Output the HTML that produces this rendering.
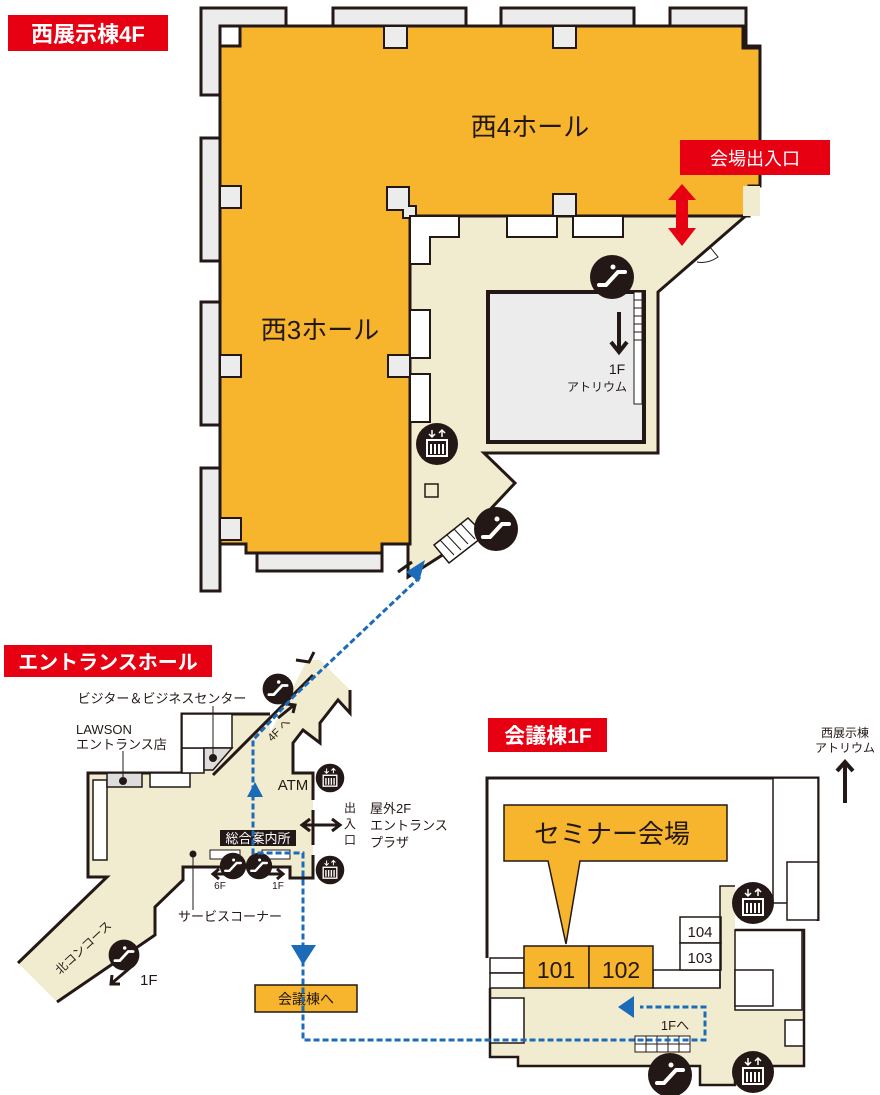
<!DOCTYPE html>
<html><head><meta charset="utf-8"><style>
html,body{margin:0;padding:0;background:#fff;}
svg{display:block;}
text{font-family:"Liberation Sans","Noto Sans CJK JP",sans-serif;}
</style></head><body>
<svg width="880" height="1095" viewBox="0 0 880 1095" xmlns="http://www.w3.org/2000/svg">
<defs>
<g id="esc"><circle r="22" fill="#231815"/><path d="M-13 8 L-6 8 L6 -5 L13 -5" stroke="#fff" stroke-width="4" fill="none" stroke-linecap="round"/><circle cx="1" cy="-10" r="2.5" fill="#fff"/></g>
<g id="elv"><circle r="21" fill="#231815"/><rect x="-10" y="-4" width="20" height="16" fill="none" stroke="#fff" stroke-width="2"/><path d="M-6 0v10M-2 0v10M2 0v10M6 0v10" stroke="#fff" stroke-width="2"/><path d="M-5 -14v7M-8 -10l3 3 3-3M5 -7v-7M2 -11l3-3 3 3" stroke="#fff" stroke-width="1.5" fill="none"/></g>
</defs>

<g fill="#ececec" stroke="#231815" stroke-width="3">
<path d="M201 8 H286 V26 H220 V46 H220 V95 H201 Z"/>
<rect x="333" y="8" width="133" height="18"/>
<rect x="501" y="8" width="133" height="18"/>
<path d="M670 8 H746 V55 H760 V46 H746 V26 H670 Z"/>
<rect x="201" y="138" width="19" height="123"/>
<rect x="201" y="302" width="19" height="123"/>
<rect x="201" y="468" width="19" height="123"/>
<rect x="257" y="553" width="125" height="18"/>
</g>
<path d="M410 216 H749 L749 213 L658 292 V453 H484 L515 483 L455 547 L408 577 L408 544 L410 544 Z" fill="#f1ecd0" stroke="#231815" stroke-width="3"/>
<path d="M240 26 H743 V48 H760 V186 H749 V216 H410 V220 H410 V544 H382 V553 H246 V544 H220 V46 H240 Z" fill="#f6b52c" stroke="#231815" stroke-width="3"/>
<g fill="#ececec" stroke="#231815" stroke-width="2">
<rect x="384" y="26" width="23" height="22"/><rect x="553" y="26" width="23" height="22"/>
<rect x="220" y="186" width="21" height="22"/><rect x="220" y="355" width="21" height="22"/><rect x="220" y="518" width="21" height="22"/>
<rect x="553" y="194" width="23" height="22"/><rect x="388" y="355" width="22" height="22"/>
<path d="M387 187 H409 V206 H416 V218 H403 V210 H387 Z"/>
<rect x="743" y="186" width="17" height="30" fill="#f1ecd0" stroke="none"/>
</g>
<g fill="#fff" stroke="#231815" stroke-width="2">
<path d="M410 216 H459 V237 H430 V264 H410 Z"/>
<rect x="507" y="216" width="50" height="21"/><rect x="573" y="216" width="50" height="21"/>
<rect x="410" y="310" width="20" height="48"/><rect x="410" y="374" width="20" height="48"/>
</g>
<rect x="488" y="292" width="156" height="150" fill="#ececec" stroke="#231815" stroke-width="4"/>
<rect x="634" y="292" width="8" height="112" fill="#fff" stroke="#231815" stroke-width="1"/>
<path d="M634 300h8M634 308h8M634 316h8M634 324h8M634 332h8M634 340h8" stroke="#231815" stroke-width="1"/>
<path d="M710 247 L718 257 Q708 264 697 262" fill="none" stroke="#231815" stroke-width="1"/>
<path d="M434 545 L468 518 L485 535 L449 563 Z" fill="#fff" stroke="#231815" stroke-width="1.5"/>
<path d="M440 540l14 15M447 535l14 15M454 529l14 15M461 524l14 15" stroke="#231815" stroke-width="1"/>
<rect x="425" y="484" width="13" height="13" fill="#f1ecd0" stroke="#231815" stroke-width="1.5"/>
<path d="M398 572 L412 562" stroke="#231815" stroke-width="3"/>

<text x="530" y="136" font-size="26" text-anchor="middle" fill="#231815">西4ホール</text>
<text x="320" y="339" font-size="26" text-anchor="middle" fill="#231815">西3ホール</text>
<text x="617" y="374" font-size="14" text-anchor="middle" fill="#231815">1F</text>
<text x="597" y="391" font-size="12" text-anchor="middle" fill="#231815">アトリウム</text>
<path d="M619 312 V350 M611 342 L619 352 L627 342" stroke="#231815" stroke-width="4" fill="none"/>
<use href="#esc" x="612" y="277"/>
<use href="#esc" x="496" y="529"/>
<use href="#elv" x="437" y="444"/>
<path d="M682 184 L696 200 H688 V228 H696 L682 246 L668 228 H676 V200 H668 Z" fill="#e60012"/>

<rect x="8" y="15" width="160" height="36" fill="#e60012"/>
<text x="88" y="42" font-size="22" font-weight="bold" fill="#fff" text-anchor="middle">西展示棟4F</text>
<rect x="680" y="140" width="150" height="35" fill="#e60012"/>
<text x="755" y="165" font-size="18" fill="#fff" text-anchor="middle">会場出入口</text>

<path d="M18 963 L107 877 L107 877 L88 877 V773 H182 V714 H270 V733 L307 660 L320 660 L350 690 V713 L338 700 L320 723 V743 L303 730 L293 743 V773 H313 V878 H290 V867 H183 V880 L155 907 V935 L57 1002 Z" fill="#f1ecd0"/>
<g fill="none" stroke="#231815" stroke-width="3">
<path d="M18 963 L107 877 V877 L105 877 H88 V773 H182 V714 H270"/>
<path d="M213 775 L313 675"/>
<path d="M350 690 V713 L338 700 L320 723 V743 L303 730 L293 743 V773 H313 V800 M313 810 V845 M313 855 V878 H290 V867 H183 V880 L155 907 V935 L57 1002"/>
<path d="M296 660 L309 662 L314 652"/>
</g>
<g fill="#fff" stroke="#231815" stroke-width="1.5">
<rect x="93" y="780" width="14" height="80"/>
<rect x="150" y="773" width="40" height="14"/>
<rect x="182" y="748" width="22" height="25"/>
<rect x="182" y="714" width="50" height="34"/>
</g>
<rect x="107" y="773" width="35" height="14" fill="#ddd" stroke="#231815" stroke-width="1.5"/>
<path d="M204 748 H232 L213 770 H204 Z" fill="#ddd" stroke="#231815" stroke-width="1.5"/>
<circle cx="123" cy="781" r="4" fill="#231815"/><circle cx="213" cy="758" r="4" fill="#231815"/><circle cx="193" cy="854" r="3.5" fill="#231815"/>
<path d="M123 751 V777 M213 706 V754 M193 857 V910" stroke="#231815" stroke-width="1"/>
<rect x="220" y="830" width="76" height="16" fill="#231815"/>
<text x="258" y="843" font-size="13" fill="#fff" text-anchor="middle">総合案内所</text>
<rect x="210" y="850" width="30" height="9" fill="#fff" stroke="#231815"/><rect x="262" y="850" width="28" height="9" fill="#fff" stroke="#231815"/>
<use href="#esc" x="233" y="866" transform="translate(233 866) scale(0.6) translate(-233 -866)"/>
<use href="#esc" x="259" y="866" transform="translate(259 866) scale(0.6) translate(-259 -866)"/>
<use href="#esc" x="278" y="689" transform="translate(278 689) scale(0.7) translate(-278 -689)"/>
<use href="#esc" x="124" y="955" transform="translate(124 955) scale(0.7) translate(-124 -955)"/>
<use href="#elv" x="330" y="778" transform="translate(330 778) scale(0.68) translate(-330 -778)"/>
<use href="#elv" x="330" y="870" transform="translate(330 870) scale(0.68) translate(-330 -870)"/>
<g stroke="#231815" stroke-width="3" fill="none">
<path d="M304 825 H338 M310 819 L302 825 L310 831 M332 819 L340 825 L332 831"/>
<path d="M214 874 H226 M219 869 L213 874 L219 879"/>
<path d="M266 874 H282 M277 869 L283 874 L277 879"/>
<path d="M278 718 L294 705 M287 704 L295 705 L293 713"/>
<path d="M131 967 L112 983 M112 975 L111 984 L120 984"/>
</g>
<text x="220" y="889" font-size="10" fill="#231815" text-anchor="middle">6F</text>
<text x="278" y="889" font-size="10" fill="#231815" text-anchor="middle">1F</text>
<text x="140" y="985" font-size="15" fill="#231815">1F</text>
<text x="293" y="790" font-size="15" fill="#231815" text-anchor="middle">ATM</text>
<text x="272" y="742" font-size="11" fill="#231815" transform="rotate(-45 272 742)">4F へ</text>
<text x="60" y="975" font-size="12" fill="#231815" transform="rotate(-43 60 975)">北コンコース</text>
<text x="162" y="703" font-size="13" fill="#231815" text-anchor="middle">ビジター＆ビジネスセンター</text>
<text x="76" y="734" font-size="13" fill="#231815">LAWSON</text>
<text x="76" y="749" font-size="13" fill="#231815">エントランス店</text>
<text x="178" y="921" font-size="13" fill="#231815">サービスコーナー</text>
<text x="350" y="812" font-size="12" fill="#231815" text-anchor="middle">出</text>
<text x="350" y="828" font-size="12" fill="#231815" text-anchor="middle">入</text>
<text x="350" y="844" font-size="12" fill="#231815" text-anchor="middle">口</text>
<text x="370" y="813" font-size="13" fill="#231815">屋外2F</text>
<text x="370" y="830" font-size="13" fill="#231815">エントランス</text>
<text x="370" y="847" font-size="13" fill="#231815">プラザ</text>
<rect x="4" y="645" width="208" height="32" fill="#e60012"/>
<text x="108" y="669" font-size="20" font-weight="bold" fill="#fff" text-anchor="middle">エントランスホール</text>
<rect x="255" y="985" width="102" height="27" fill="#f6b52c" stroke="#231815" stroke-width="1.5"/>
<text x="306" y="1004" font-size="14" fill="#231815" text-anchor="middle">会議棟へ</text>

<path d="M487 958 V778 H818 V921" fill="#fff" stroke="#231815" stroke-width="3"/>
<path d="M490 988 H720 V886 H735 V930 H804 V1066 H735 V1085 H700 V1066 H518 V1057 H490 Z" fill="#f1ecd0"/>
<g fill="#fff" stroke="#231815" stroke-width="1.5">
<rect x="773" y="778" width="45" height="125"/><rect x="787" y="862" width="31" height="58"/>
<rect x="735" y="930" width="67" height="80"/><rect x="735" y="970" width="38" height="36"/>
<rect x="490" y="958" width="34" height="15"/><rect x="490" y="973" width="34" height="15"/>
<rect x="490" y="998" width="34" height="45"/>
<rect x="653" y="970" width="67" height="18"/>
<rect x="680" y="917" width="41" height="26"/><rect x="680" y="943" width="41" height="27"/>
<rect x="785" y="1020" width="19" height="26"/>
</g>
<path d="M490 988 V1057 H518 V1066 H700 V1085 H735 V1066 H804 V930 H735" fill="none" stroke="#231815" stroke-width="2.5"/>
<path d="M720 988 V886 H735" fill="none" stroke="#231815" stroke-width="1.5"/>
<rect x="524" y="946" width="65" height="42" fill="#f6b52c" stroke="#231815" stroke-width="1.5"/>
<rect x="589" y="946" width="64" height="42" fill="#f6b52c" stroke="#231815" stroke-width="1.5"/>
<text x="556" y="978" font-size="23" fill="#231815" text-anchor="middle">101</text>
<text x="621" y="978" font-size="23" fill="#231815" text-anchor="middle">102</text>
<text x="700" y="937" font-size="15" fill="#231815" text-anchor="middle">104</text>
<text x="700" y="963" font-size="15" fill="#231815" text-anchor="middle">103</text>
<path d="M504 805 H727 V861 H580 L566 944 L548 861 H504 Z" fill="#f6b52c" stroke="#231815" stroke-width="1.5"/>
<text x="612" y="843" font-size="26" fill="#231815" text-anchor="middle">セミナー会場</text>
<rect x="635" y="1036" width="55" height="16" fill="#fff" stroke="#231815"/>
<path d="M646 1036v16M657 1036v16M668 1036v16M679 1036v16M635 1044h55" stroke="#231815" stroke-width="1"/>
<text x="675" y="1030" font-size="13" fill="#231815" text-anchor="middle">1Fへ</text>
<use href="#esc" x="670" y="1075"/>
<use href="#elv" x="753" y="903"/>
<use href="#elv" x="753" y="1072"/>
<rect x="488" y="718" width="119" height="34" fill="#e60012"/>
<text x="548" y="743" font-size="21" font-weight="bold" fill="#fff" text-anchor="middle">会議棟1F</text>
<text x="845" y="737" font-size="12" fill="#231815" text-anchor="middle">西展示棟</text>
<text x="845" y="752" font-size="12" fill="#231815" text-anchor="middle">アトリウム</text>
<path d="M845 803 V762 M837 771 L845 762 L853 771" stroke="#231815" stroke-width="4" fill="none"/>

<g stroke="#1c6bb8" stroke-width="3" fill="none" stroke-dasharray="6 3">
<path d="M420 577 L293 697 L253 740 V853 H303 V1040 H705 V1007 H640"/>
</g>
<g fill="#1c6bb8">
<path d="M425 560 L419 582 L406 572 Z"/>
<path d="M255 782 L247 797 H263 Z"/>
<path d="M291 945 H316 L303 965 Z"/>
<path d="M618 1007 L634 996 V1018 Z"/>
</g>
</svg>
</body></html>
